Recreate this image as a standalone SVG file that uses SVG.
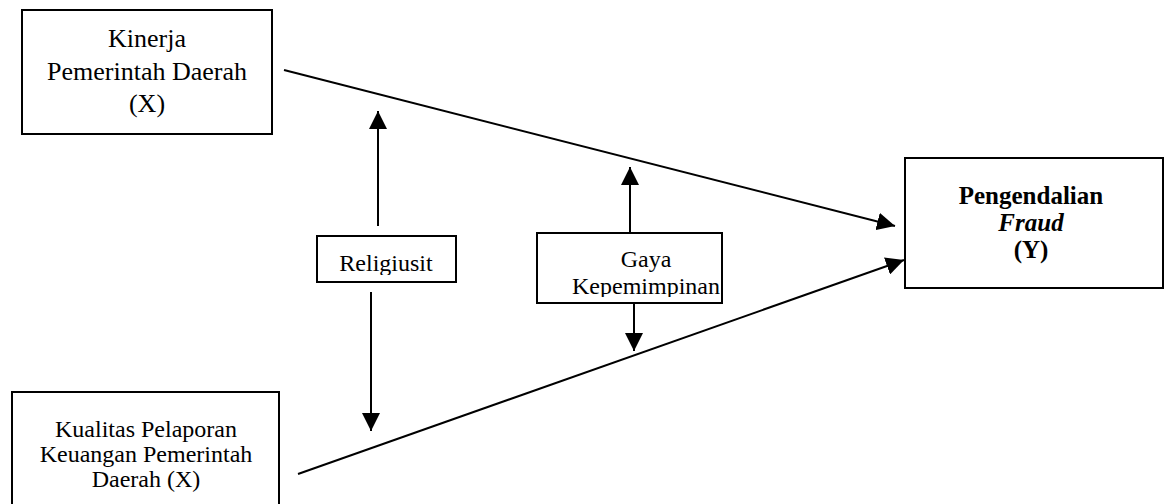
<svg xmlns="http://www.w3.org/2000/svg" width="1164" height="504" viewBox="0 0 1164 504">
<style>
.box{fill:#fff;stroke:#000;stroke-width:2}
.t{font-family:"Liberation Serif","Times New Roman",serif;fill:#000;text-anchor:middle}
.ln{stroke:#000;stroke-width:2;fill:none;marker-end:url(#ah)}
</style>
<defs>
<marker id="ah" markerUnits="userSpaceOnUse" markerWidth="18" markerHeight="18" viewBox="0 0 16 16" refX="16" refY="8" orient="auto">
<path d="M0,0 L16,8 L0,16 Z" fill="#000"/>
</marker>
<clipPath id="cr"><rect x="318" y="237" width="137" height="38"/></clipPath>
<clipPath id="cg"><rect x="538" y="234" width="190" height="63"/></clipPath>
</defs>
<rect width="1164" height="504" fill="#fff"/>
<g id="connectors">
<line class="ln" x1="284" y1="70" x2="895" y2="226"/>
<line class="ln" x1="298" y1="474" x2="904" y2="260"/>
<line class="ln" x1="378" y1="226" x2="378" y2="111"/>
<line class="ln" x1="371" y1="292" x2="371" y2="431"/>
<line class="ln" x1="630" y1="233" x2="630" y2="167"/>
</g>
<g id="kinerja">
<rect class="box" x="22" y="10" width="250" height="124"/>
<text class="t" font-size="26" x="147" y="47">Kinerja</text>
<text class="t" font-size="26" x="147" y="80">Pemerintah Daerah</text>
<text class="t" font-size="26" x="147" y="112">(X)</text>
</g>
<g id="kualitas">
<rect class="box" x="12" y="392" width="267" height="120"/>
<text class="t" font-size="24" x="146" y="437">Kualitas Pelaporan</text>
<text class="t" font-size="24" x="146" y="462">Keuangan Pemerintah</text>
<text class="t" font-size="24" x="146" y="487">Daerah (X)</text>
</g>
<g id="religiusit">
<rect class="box" x="317" y="236" width="139" height="46"/>
<text class="t" font-size="24" x="386" y="271" clip-path="url(#cr)">Religiusit</text>
</g>
<g id="gaya">
<rect class="box" x="537" y="233" width="185" height="70"/>
<g clip-path="url(#cg)">
<text class="t" font-size="24" x="646" y="267">Gaya</text>
<text class="t" font-size="24" x="646" y="294">Kepemimpinan</text>
</g>
<line class="ln" x1="634" y1="303" x2="634" y2="351"/>
</g>
<g id="pengendalian">
<rect class="box" x="905" y="158" width="258" height="130"/>
<text class="t" font-size="25" font-weight="bold" x="1031" y="204">Pengendalian</text>
<text class="t" font-size="25" font-weight="bold" font-style="italic" x="1031" y="231">Fraud</text>
<text class="t" font-size="25" font-weight="bold" x="1031" y="258">(Y)</text>
</g>
</svg>
